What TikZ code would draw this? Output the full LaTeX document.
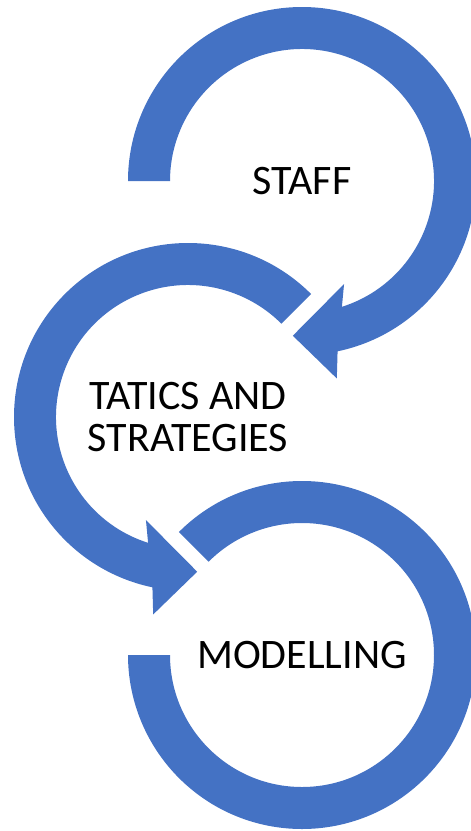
\documentclass[tikz,border=0pt]{standalone}
\usepackage{fontspec}
\setmainfont{Carlito}
\definecolor{ringblue}{HTML}{4472C4}
\tikzset{
  ring/.style={fill=ringblue},
  ringtext/.style={font=\fontsize{42}{42}\selectfont, align=center, inner sep=0pt}
}
\begin{document}
\begin{tikzpicture}[x=1pt,y=-1pt]
                \clip (0,0) rectangle (471,831);
                \coordinate (1) at (302,181);
                \coordinate (2) at (188,417);
                \coordinate (3) at (302,655);
                \fill[ring,shift={(1)}] (180:174) arc (180:438.2:174) -- (80:200.5) -- (93.4:155) -- (67.8:111.3) -- (72.4:132) arc (432.4:180:132) -- cycle;
                \fill[ring,shift={(2)}] (-45:174) arc (-45:-258.2:174) -- (-260:200.5) -- (-273.4:155) -- (-247.8:111.3) -- (-252.4:132) arc (-252.4:-45:132) -- cycle;
                \fill[ring,shift={(3)}] (225:174) arc (225:540:174) -- (540:132) arc (540:225:132) -- cycle;
                \node[ringtext] (11) at (1) {STAFF};
                \node[ringtext] (12) at (2) {TATICS AND\\STRATEGIES};
                \node[ringtext] (13) at (3) {MODELLING};
\end{tikzpicture}
\end{document}
